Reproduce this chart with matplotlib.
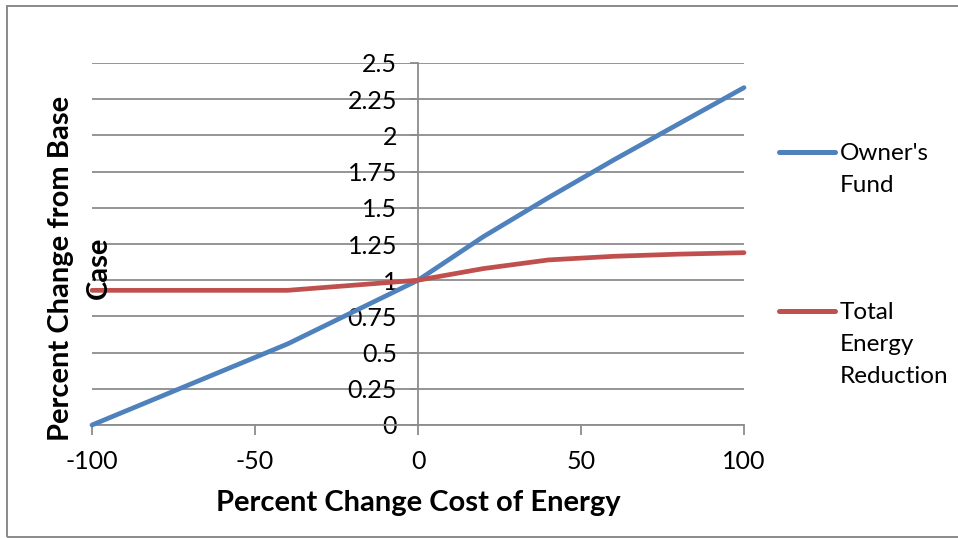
import matplotlib
matplotlib.use("Agg")
import matplotlib.pyplot as plt
from matplotlib.lines import Line2D
from matplotlib.patches import Rectangle

# Sensitivity data: percent change in energy cost vs. change from base case
cost_change = [-100, -40, -20, 0, 20, 40, 60, 80, 100]
owners_fund = [0.0, 0.56, 0.78, 1.0, 1.30, 1.57, 1.83, 2.08, 2.33]
energy_reduction = [0.93, 0.93, 0.965, 1.0, 1.08, 1.14, 1.165, 1.18, 1.19]

series_labels = ["Owner's\nFund", "Total\nEnergy\nReduction"]
x_ticks = [-100, -50, 0, 50, 100]
y_ticks = [0, 0.25, 0.5, 0.75, 1, 1.25, 1.5, 1.75, 2, 2.25, 2.5]
y_tick_labels = ["0", "0.25", "0.5", "0.75", "1", "1.25", "1.5", "1.75", "2", "2.25", "2.5"]

BLUE = "#4F81BD"
RED = "#C0504D"
GRID = "#8C8C8C"

plt.rcParams["font.family"] = ["Lato", "DejaVu Sans"]

W, H = 958, 538
fig = plt.figure(figsize=(W / 100, H / 100), dpi=100)

# chart-area border
fig.patches.append(Rectangle((7 / W, 1 / H), 1 - 7 / W + 0.01, 1 - 7 / H,
                             transform=fig.transFigure, fill=False,
                             edgecolor="#8A8A8A", linewidth=1.4))

ax = fig.add_axes([92 / W, 1 - 425 / H, (744 - 92) / W, (425 - 63) / H])
ax.set_xlim(-100, 100)
ax.set_ylim(0, 2.5)

ax.set_yticks(y_ticks)
ax.set_yticklabels(y_tick_labels)
ax.set_xticks(x_ticks)
ax.set_xticklabels([str(v) for v in x_ticks])

ax.grid(axis="y", color=GRID, linewidth=1.3)
ax.set_axisbelow(True)

for side in ("top", "right"):
    ax.spines[side].set_visible(False)
ax.spines["left"].set_position(("data", 0))
ax.spines["left"].set_color(GRID)
ax.spines["left"].set_linewidth(1.3)
ax.spines["bottom"].set_color(GRID)
ax.spines["bottom"].set_linewidth(1.3)

ax.tick_params(axis="y", direction="out", length=6, width=1.3, color=GRID,
               labelsize=18, pad=9)
ax.tick_params(axis="x", direction="out", length=7, width=1.3, color=GRID,
               labelsize=18, pad=11)

ax.plot(cost_change, owners_fund, color=BLUE, linewidth=3.4,
        solid_capstyle="round", clip_on=False, zorder=3)
ax.plot(cost_change, energy_reduction, color=RED, linewidth=3.4,
        solid_capstyle="round", clip_on=False, zorder=3)

fig.text(418 / W, 1 - 503 / H, "Percent Change Cost of Energy",
         ha="center", va="center", fontsize=21, fontweight="bold")
fig.text(80 / W, 1 - 268 / H, "Percent Change from Base\nCase",
         ha="center", va="center", rotation=90, fontsize=21,
         fontweight="bold", multialignment="center", linespacing=1.57)

handles = [Line2D([], [], color=BLUE, linewidth=3.6, solid_capstyle="round"),
           Line2D([], [], color=RED, linewidth=3.6, solid_capstyle="round")]
leg = ax.legend(handles, series_labels, loc="upper left",
                bbox_to_anchor=(779 / W, 1 - 143 / H),
                bbox_transform=fig.transFigure, frameon=False,
                fontsize=17.5, handlelength=2.3, handletextpad=0.2,
                labelspacing=4.4, borderpad=0, borderaxespad=0)
for t in leg.get_texts():
    t.set_linespacing(1.62)
for col in leg._legend_handle_box.get_children():
    for item in col.get_children():
        item.align = "top"

fig.savefig("out.png", dpi=100)
